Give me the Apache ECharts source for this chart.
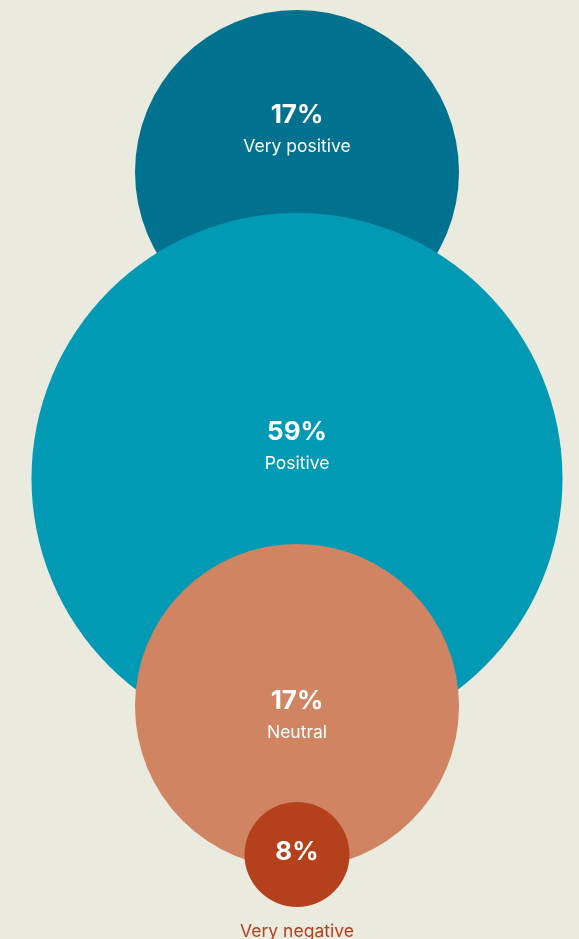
<!DOCTYPE html>
<html>
<head>
<meta charset="utf-8">
<script src="https://cdn.jsdelivr.net/npm/echarts@6/dist/echarts.min.js"></script>
<style>
  html, body { margin: 0; padding: 0; background: #EAEADF; }
  #chart { width: 579px; height: 939px; }
</style>
</head>
<body>
<div id="chart"></div>
<script>
// Share of responses by sentiment
const categories = ['Very positive', 'Positive', 'Neutral', 'Very negative'];
const shares = [17, 59, 17, 8];

// Bubble layout (pixel space of the plot): centres, diameters, colours
const centreX = [297, 297, 297, 297];
const centreY = [172, 478.5, 706, 854.5];
const diameters = [324, 531, 324, 105];
const colours = ['#00728F', '#009AB5', '#D08461', '#B4411C'];
const labelShift = [-41, -30.5, 11, 62];

const FONT = 'Inter, "Noto Sans", sans-serif';

const data = categories.map((name, i) => {
  const inside = i < 3;
  return {
    name,
    value: [centreX[i], centreY[i], shares[i]],
    symbolSize: diameters[i],
    itemStyle: { color: colours[i], opacity: 1 },
    label: {
      show: true,
      position: 'inside',
      offset: [0, labelShift[i]],
      formatter: inside
        ? `{p|${shares[i]}%}\n{n|${name}}`
        : `{p|${shares[i]}%}\n{out|${name}}`
    }
  };
});

const chart = echarts.init(document.getElementById('chart'), null, { renderer: 'canvas' });
chart.setOption({
  backgroundColor: '#EAEADF',
  animation: false,
  grid: { left: 0, right: 0, top: 0, bottom: 0 },
  xAxis: { type: 'value', min: 0, max: 579, show: false },
  yAxis: { type: 'value', min: 0, max: 939, inverse: true, show: false },
  series: [{
    type: 'scatter',
    symbol: 'circle',
    data,
    label: {
      rich: {
        p: { fontFamily: FONT, fontSize: 26, fontWeight: 700, color: '#FFFFFF', lineHeight: 31, align: 'center' },
        n: { fontFamily: FONT, fontSize: 17.5, fontWeight: 400, color: '#FFFFFF', lineHeight: 31, align: 'center' },
        out: { fontFamily: FONT, fontSize: 17.5, fontWeight: 400, color: '#B4411C', lineHeight: 129, align: 'center' }
      }
    },
    emphasis: { disabled: true }
  }]
});
</script>
</body>
</html>
